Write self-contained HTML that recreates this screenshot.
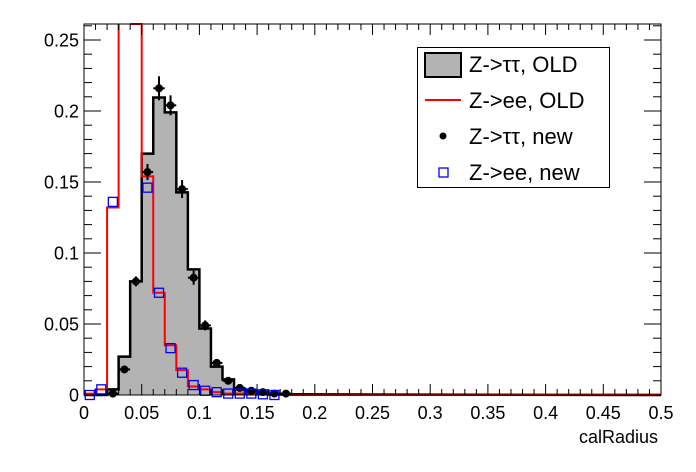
<!DOCTYPE html>
<html><head><meta charset="utf-8"><style>body{margin:0;background:#fff}svg{display:block}text{font-family:"Liberation Sans",sans-serif}</style></head>
<body>
<svg width="696" height="472" xmlns="http://www.w3.org/2000/svg">
</svg>
<script>
const X0=84,X1=661,Y0=395,Y1=24,KX=(X1-X0)/0.5,KY=1420;
const px=v=>X0+v*KX, py=v=>Y0-v*KY;
const svg=document.querySelector('svg');let s='';
const g=[0,0,0.004,0.027,0.080,0.170,0.2095,0.199,0.1427,0.0885,0.0468,0.020,0.011,0.004,0.002,0.001,0.001,0.0005];
let d=`M${px(0)},${Y0}`;
g.forEach((v,i)=>{d+=` L${px(i*0.01)},${py(v)} L${px((i+1)*0.01)},${py(v)}`});
d+=` L${px(0.5)},${Y0}`;
s+=`<path d="${d} Z" fill="#b3b3b3" stroke="none"/>`;
s+=`<path d="${d}" fill="none" stroke="#000" stroke-width="2.5"/>`;
const r=[0.001,0.004,0.132,null,null,0.154,0.072,0.035,0.0175,0.006,0.004,0.002,0.001,0.001,0.0005,0.0005,0,0];
let rd=`M${px(0)},${py(0.001)} L${px(0.01)},${py(0.001)} L${px(0.01)},${py(0.004)} L${px(0.02)},${py(0.004)} L${px(0.02)},${py(0.132)} L${px(0.03)},${py(0.132)} L${px(0.03)},${Y1} M${px(0.04)},${Y1} L${px(0.05)},${Y1}`;
for(let i=5;i<r.length;i++){rd+=` L${px(i*0.01)},${py(r[i])} L${px((i+1)*0.01)},${py(r[i])}`}
rd+=` L${px(0.5)},${Y0-0.5}`;
s+=`<path d="${rd}" fill="none" stroke="#f00" stroke-width="2"/>`;
const b=[[2,0.001,0],[3,0.018,3],[4,0.080,5],[5,0.157,8],[6,0.216,12],[7,0.204,10],[8,0.145,9],[9,0.0826,7],[10,0.049,5],[11,0.0226,3],[12,0.01,2],[13,0.005,2],[14,0.003,1],[15,0.002,0],[16,0.001,0],[17,0.001,0]];
b.forEach(([i,v,e])=>{const x=px(i*0.01+0.005),y=py(v);
s+=`<line x1="${x-5.7}" y1="${y}" x2="${x+5.7}" y2="${y}" stroke="#000" stroke-width="2"/>`;
if(e)s+=`<line x1="${x}" y1="${y-e}" x2="${x}" y2="${y+e}" stroke="#000" stroke-width="2"/>`;
s+=`<circle cx="${x}" cy="${y}" r="4" fill="#000"/>`;});
const bl=[[0,0.0],[1,0.004],[2,0.136],[5,0.146],[6,0.072],[7,0.033],[8,0.0157],[9,0.007],[10,0.003],[11,0.002],[12,0.001],[13,0.001],[14,0.001],[15,0.0005],[16,0]];
bl.forEach(([i,v])=>{const x=px(i*0.01+0.005),y=py(v);
s+=`<rect x="${x-4.5}" y="${y-4.5}" width="9" height="9" fill="none" stroke="#00f" stroke-width="1.3"/>`;});
s+=`<rect x="${X0}" y="${Y1}" width="${X1-X0}" height="${Y0-Y1}" fill="none" stroke="#000" stroke-width="1"/>`;
for(let i=0;i<=50;i++){const x=px(i*0.01),L=i%5==0?11:6;
s+=`<line x1="${x}" y1="${Y0}" x2="${x}" y2="${Y0-L}" stroke="#000"/><line x1="${x}" y1="${Y1}" x2="${x}" y2="${Y1+L}" stroke="#000"/>`;
if(i%5==0){const t=i==0?'0':(i==10?'0.1':i==20?'0.2':i==30?'0.3':i==40?'0.4':i==50?'0.5':(i/100).toString());
s+=`<text x="${x}" y="419" font-size="18" text-anchor="middle">${t}</text>`;}}
for(let i=0;i<=26;i++){const y=py(i*0.01),L=i%5==0?17:8;
s+=`<line x1="${X0}" y1="${y}" x2="${X0+L}" y2="${y}" stroke="#000"/><line x1="${X1}" y1="${y}" x2="${X1-L}" y2="${y}" stroke="#000"/>`;
if(i%5==0){const t=i==0?'0':(i==10?'0.1':i==20?'0.2':(i/100).toString());
s+=`<text x="79" y="${y+6.5}" font-size="18" text-anchor="end">${t}</text>`;}}
s+=`<text x="658" y="443" font-size="18" text-anchor="end">calRadius</text>`;
s+=`<rect x="417.5" y="47.5" width="192" height="140" fill="#fff" stroke="#000" stroke-width="1"/>`;
s+=`<rect x="425" y="53" width="36" height="24" fill="#b3b3b3" stroke="#000" stroke-width="2"/>`;
s+=`<line x1="425" y1="100" x2="461" y2="100" stroke="#f00" stroke-width="2"/>`;
s+=`<circle cx="443" cy="136" r="3.5" fill="#000"/>`;
s+=`<rect x="439" y="168" width="9" height="9" fill="none" stroke="#00f" stroke-width="1.3"/>`;
const lt=[[72,'Z-&gt;ττ, OLD'],[108,'Z-&gt;ee, OLD'],[144,'Z-&gt;ττ, new'],[180,'Z-&gt;ee, new']];
lt.forEach(([y,t])=>s+=`<text x="469" y="${y}" font-size="22">${t}</text>`);
svg.innerHTML=s;
</script>
</body></html>
